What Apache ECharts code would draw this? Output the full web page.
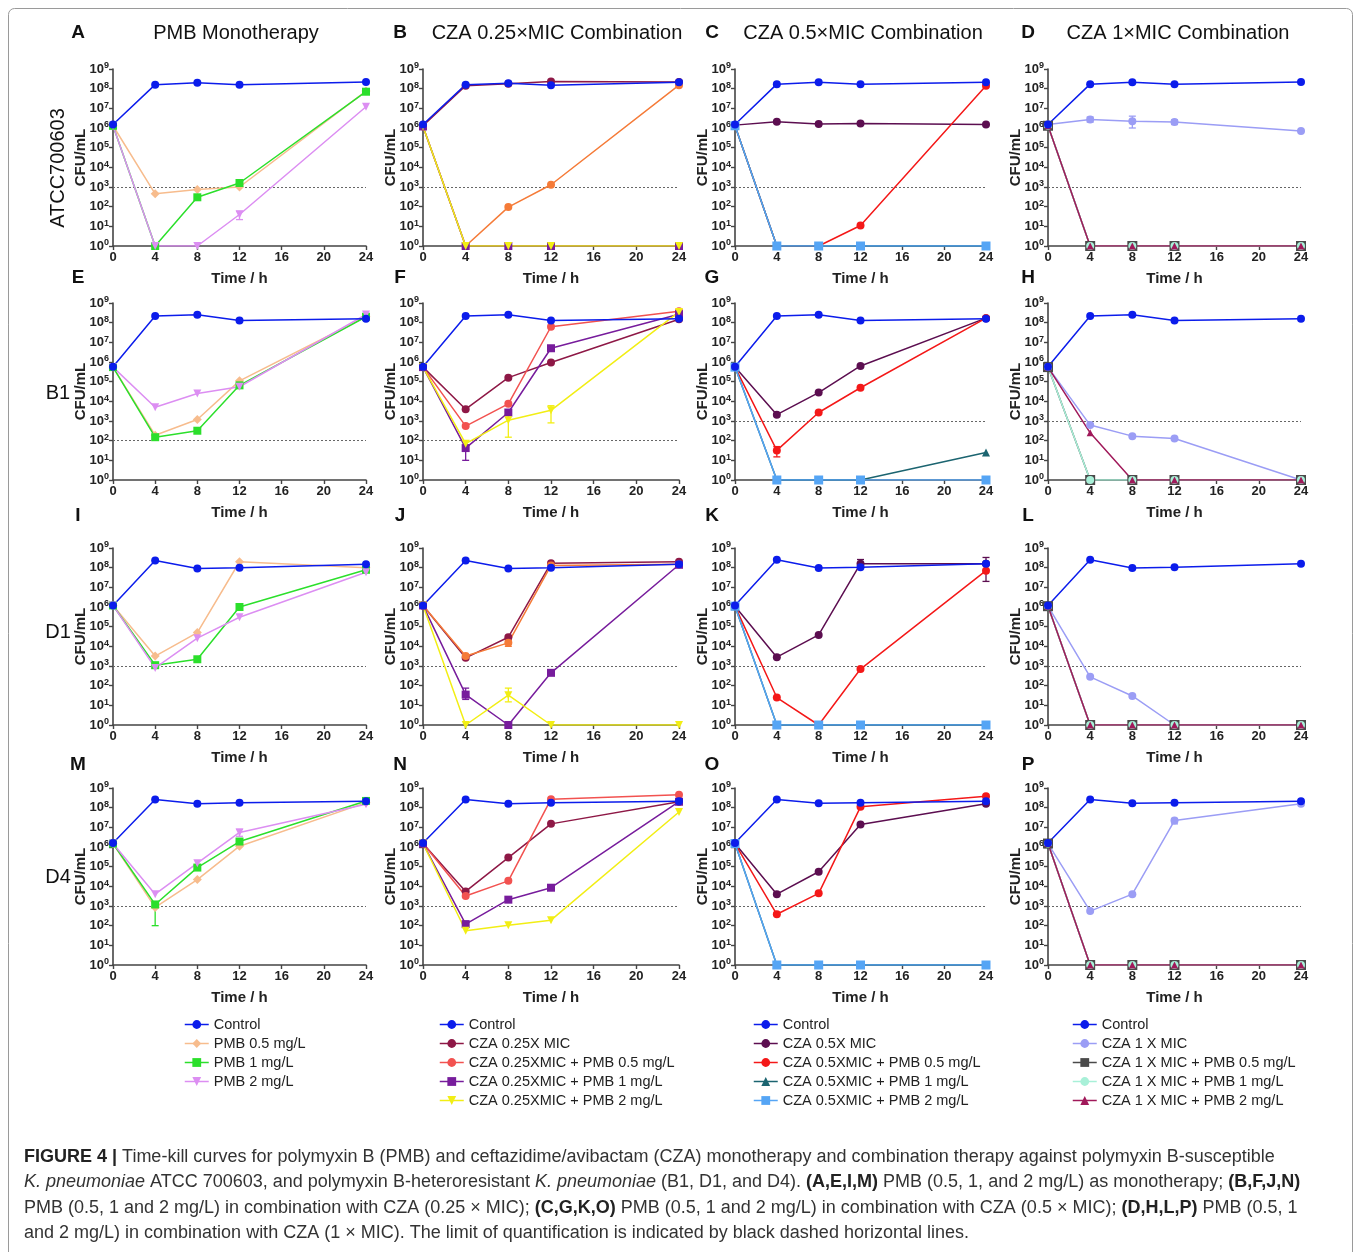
<!DOCTYPE html>
<html><head><meta charset="utf-8">
<script src="https://cdn.jsdelivr.net/npm/echarts@6/dist/echarts.min.js"></script>
<style>html,body{margin:0;padding:0;background:#fff}#c{width:1357px;height:1252px}</style>
</head><body><div id="c"></div><script>
// ---------- DATA ----------
const times = [0, 4, 8, 12, 24];

// Row 1: ATCC700603
const A_ctrl = [1.5e6, 1.6e8, 2.0e8, 1.6e8, 2.2e8];
const A_pmb05 = [1.3e6, 450, 750, 1000, 7.5e7];
const A_pmb1 = [1.3e6, 1, 300, 1600, 7.0e7];
const A_pmb2 = [1.3e6, 1, 1, 40, 1.2e7];

const B_ctrl = [1.5e6, 1.6e8, 1.9e8, 1.5e8, 2.1e8];
const B_cza = [1.3e6, 1.4e8, 1.8e8, 2.3e8, 2.2e8];
const B_c05 = [1.2e6, 1, 95, 1300, 1.5e8];
const B_c1 = [1.2e6, 1, 1, 1, 1];
const B_c2 = [1.2e6, 1, 1, 1, 1];

const C_ctrl = [1.5e6, 1.7e8, 2.1e8, 1.7e8, 2.1e8];
const C_cza = [1.4e6, 2.1e6, 1.6e6, 1.7e6, 1.5e6];
const C_c05 = [1.3e6, 1, 1, 11, 1.4e8];
const C_c1 = [1.3e6, 1, 1, 1, 1];
const C_c2 = [1.3e6, 1, 1, 1, 1];

const D_ctrl = [1.5e6, 1.7e8, 2.1e8, 1.7e8, 2.2e8];
const D_cza = [1.5e6, 2.7e6, 2.2e6, 2.0e6, 7.0e5];
const D_c05 = [1.3e6, 1, 1, 1, 1];
const D_c1 = [1.3e6, 1, 1, 1, 1];
const D_c2 = [1.3e6, 1, 1, 1, 1];

// Row 2: B1
const E_ctrl = [5.8e5, 2.2e8, 2.5e8, 1.3e8, 1.6e8];
const E_pmb05 = [5.5e5, 190, 1200, 1.1e5, 2.0e8];
const E_pmb1 = [5.5e5, 150, 320, 6.5e4, 2.0e8];
const E_pmb2 = [5.5e5, 5.0e3, 2.5e4, 5.5e4, 2.6e8];

const F_ctrl = [5.8e5, 2.2e8, 2.5e8, 1.3e8, 1.6e8];
const F_cza = [5.5e5, 4.0e3, 1.6e5, 9.5e5, 1.5e8];
const F_c05 = [5.5e5, 550, 7.5e3, 6.2e7, 3.8e8];
const F_c1 = [5.5e5, 42, 2.7e3, 5.0e6, 2.7e8];
const F_c2 = [5.5e5, 70, 1.1e3, 3.5e3, 3.5e8];

const G_ctrl = [5.8e5, 2.2e8, 2.5e8, 1.3e8, 1.6e8];
const G_cza = [5.5e5, 2.1e3, 2.8e4, 6.3e5, 1.7e8];
const G_c05 = [5.5e5, 32, 2.7e3, 4.9e4, 1.7e8];
const G_c1 = [5.5e5, 1, 1, 1, 25];
const G_c2 = [5.5e5, 1, 1, 1, 1];

const H_ctrl = [5.8e5, 2.2e8, 2.5e8, 1.3e8, 1.6e8];
const H_cza = [5.5e5, 620, 170, 130, 1];
const H_c05 = [5.5e5, 1, 1, 1, 1];
const H_c1 = [5.5e5, 1, 1, 1, 1];
const H_c2 = [5.5e5, 250, 1, 1, 1];

// Row 3: D1
const I_ctrl = [1.2e6, 2.3e8, 9.0e7, 1.0e8, 1.5e8];
const I_pmb05 = [1.2e6, 3.2e3, 5.0e4, 2.0e8, 1.0e8];
const I_pmb1 = [1.2e6, 1.1e3, 2.2e3, 1.0e6, 7.8e7];
const I_pmb2 = [1.2e6, 800, 2.6e4, 3.0e5, 5.8e7];

const J_ctrl = [1.2e6, 2.3e8, 9.0e7, 1.0e8, 1.5e8];
const J_cza = [1.2e6, 2.6e3, 2.9e4, 1.7e8, 2.0e8];
const J_c05 = [1.2e6, 3.2e3, 1.5e4, 1.3e8, 1.5e8];
const J_c1 = [1.2e6, 35, 1, 450, 1.4e8];
const J_c2 = [1.2e6, 1, 33, 1, 1];

const K_ctrl = [1.2e6, 2.5e8, 9.5e7, 1.05e8, 1.6e8];
const K_cza = [1.1e6, 2.8e3, 3.8e4, 1.6e8, 1.6e8];
const K_c05 = [1.1e6, 25, 1, 700, 7.0e7];
const K_c1 = [1.1e6, 1, 1, 1, 1];
const K_c2 = [1.1e6, 1, 1, 1, 1];

const L_ctrl = [1.2e6, 2.5e8, 9.5e7, 1.05e8, 1.6e8];
const L_cza = [1.1e6, 280, 30, 1, 1];
const L_c05 = [1.1e6, 1, 1, 1, 1];
const L_c1 = [1.1e6, 1, 1, 1, 1];
const L_c2 = [1.1e6, 1, 1, 1, 1];

// Row 4: D4
const M_ctrl = [1.6e6, 2.6e8, 1.6e8, 1.8e8, 2.1e8];
const M_pmb05 = [1.5e6, 850, 2.2e4, 1.1e6, 1.8e8];
const M_pmb1 = [1.5e6, 1.2e3, 9.0e4, 1.9e6, 2.2e8];
const M_pmb2 = [1.5e6, 4.0e3, 1.5e5, 5.5e6, 1.5e8];

const N_ctrl = [1.6e6, 2.6e8, 1.6e8, 1.8e8, 2.1e8];
const N_cza = [1.5e6, 5.5e3, 2.9e5, 1.5e7, 2.0e8];
const N_c05 = [1.5e6, 3.2e3, 1.9e4, 2.7e8, 4.5e8];
const N_c1 = [1.5e6, 120, 2.1e3, 8.5e3, 2.0e8];
const N_c2 = [1.5e6, 55, 105, 190, 6.0e7];

const O_ctrl = [1.6e6, 2.6e8, 1.7e8, 1.8e8, 2.1e8];
const O_cza = [1.5e6, 4.0e3, 5.5e4, 1.4e7, 1.6e8];
const O_c05 = [1.5e6, 380, 4.4e3, 1.1e8, 3.8e8];
const O_c1 = [1.5e6, 1, 1, 1, 1];
const O_c2 = [1.5e6, 1, 1, 1, 1];

const P_ctrl = [1.6e6, 2.6e8, 1.7e8, 1.8e8, 2.1e8];
const P_cza = [1.5e6, 550, 4.0e3, 2.2e7, 1.6e8];
const P_c05 = [1.5e6, 1, 1, 1, 1];
const P_c1 = [1.5e6, 1, 1, 1, 1];
const P_c2 = [1.5e6, 1, 1, 1, 1];

// error bars [time, low, high]
const A_err_pmb2 = [[12, 22, 60]];
const D_err_cza = [[4, 2.0e6, 3.6e6], [8, 1.0e6, 4.0e6], [12, 1.5e6, 2.6e6]];
const F_err_c1 = [[4, 10, 100]];
const F_err_c2 = [[8, 150, 3.0e3], [12, 800, 6.0e3]];
const G_err_c05 = [[4, 15, 50]];
const J_err_c1 = [[4, 20, 75]];
const J_err_c2 = [[8, 15, 75]];
const J_err_c05 = [[8, 1.0e4, 2.0e4]];
const K_err_cza = [[12, 1.1e8, 2.6e8], [24, 2.0e7, 3.3e8]];
const M_err_pmb1 = [[4, 100, 1.6e3]];
const M_err_pmb2 = [[12, 3.5e6, 8.0e6]];
const P_err_cza = [[12, 1.5e7, 2.8e7]];

const rowLabels = ['ATCC700603', 'B1', 'D1', 'D4'];
const colTitles = ['PMB Monotherapy', 'CZA 0.25\u00d7MIC Combination', 'CZA 0.5\u00d7MIC Combination', 'CZA 1\u00d7MIC Combination'];
const letters = ['A','B','C','D','E','F','G','H','I','J','K','L','M','N','O','P'];
const xTickLabels = ['0','4','8','12','16','20','24'];

// ---------- STYLE / LAYOUT ----------
const FF = "'Liberation Sans', Arial, Helvetica, sans-serif";
const FN = "'Liberation Sans Narrow', 'Liberation Sans', Arial, sans-serif";
const ST = {
  ctrl: {color:'#0B1CEB', symbol:'circle', size:8},
  pmb05:{color:'#F7BC8D', symbol:'diamond', size:9},
  pmb1: {color:'#2BDF2B', symbol:'rect', size:8},
  pmb2: {color:'#DC8EF2', symbol:'triangle', size:8, rotate:180},
  cza25:{color:'#8E1846', symbol:'circle', size:8},
  c25_05:{color:'#F25250', symbol:'circle', size:8},
  c25_1:{color:'#771C9C', symbol:'rect', size:8},
  c25_2:{color:'#F2EE14', symbol:'triangle', size:8, rotate:180},
  cza5: {color:'#5C0E50', symbol:'circle', size:8},
  c5_05:{color:'#F41818', symbol:'circle', size:8},
  c5_1: {color:'#1B6470', symbol:'triangle', size:8},
  c5_2: {color:'#55A5F5', symbol:'rect', size:9},
  cza1: {color:'#9B9DF5', symbol:'circle', size:8},
  c1_05:{color:'#4A4A4A', symbol:'rect', size:10},
  c1_1: {color:'#A8F0D8', symbol:'circle', size:8},
  c1_2: {color:'#A0195A', symbol:'triangle', size:7}
};
const cols = [
  {names:['Control','PMB 0.5 mg/L','PMB 1 mg/L','PMB 2 mg/L'], styles:['ctrl','pmb05','pmb1','pmb2']},
  {names:['Control','CZA 0.25X MIC','CZA 0.25XMIC + PMB 0.5 mg/L','CZA 0.25XMIC + PMB 1 mg/L','CZA 0.25XMIC + PMB 2 mg/L'], styles:['ctrl','cza25','c25_05','c25_1','c25_2']},
  {names:['Control','CZA 0.5X MIC','CZA 0.5XMIC + PMB 0.5 mg/L','CZA 0.5XMIC + PMB 1 mg/L','CZA 0.5XMIC + PMB 2 mg/L'], styles:['ctrl','cza5','c5_05','c5_1','c5_2']},
  {names:['Control','CZA 1 X MIC','CZA 1 X MIC + PMB 0.5 mg/L','CZA 1 X MIC + PMB 1 mg/L','CZA 1 X MIC + PMB 2 mg/L'], styles:['ctrl','cza1','c1_05','c1_1','c1_2']}
];
const ORANGE = '#F57B38';
// [letterIndex, row, col, LOQ, arrays, colour override, error bars {seriesIdx: arr}]
const panelDefs = [
  [0,0,0,1e3,[A_ctrl,A_pmb05,A_pmb1,A_pmb2],null,{3:A_err_pmb2}],
  [1,0,1,1e3,[B_ctrl,B_cza,B_c05,B_c1,B_c2],{2:ORANGE},{}],
  [2,0,2,1e3,[C_ctrl,C_cza,C_c05,C_c1,C_c2],null,{}],
  [3,0,3,1e3,[D_ctrl,D_cza,D_c05,D_c1,D_c2],null,{1:D_err_cza}],
  [4,1,0,1e2,[E_ctrl,E_pmb05,E_pmb1,E_pmb2],null,{}],
  [5,1,1,1e2,[F_ctrl,F_cza,F_c05,F_c1,F_c2],null,{3:F_err_c1,4:F_err_c2}],
  [6,1,2,1e3,[G_ctrl,G_cza,G_c05,G_c1,G_c2],null,{2:G_err_c05}],
  [7,1,3,1e3,[H_ctrl,H_cza,H_c05,H_c1,H_c2],null,{}],
  [8,2,0,1e3,[I_ctrl,I_pmb05,I_pmb1,I_pmb2],null,{}],
  [9,2,1,1e3,[J_ctrl,J_cza,J_c05,J_c1,J_c2],{2:ORANGE},{2:J_err_c05,3:J_err_c1,4:J_err_c2}],
  [10,2,2,1e3,[K_ctrl,K_cza,K_c05,K_c1,K_c2],null,{1:K_err_cza}],
  [11,2,3,1e3,[L_ctrl,L_cza,L_c05,L_c1,L_c2],null,{}],
  [12,3,0,1e3,[M_ctrl,M_pmb05,M_pmb1,M_pmb2],null,{2:M_err_pmb1,3:M_err_pmb2}],
  [13,3,1,1e3,[N_ctrl,N_cza,N_c05,N_c1,N_c2],null,{}],
  [14,3,2,1e3,[O_ctrl,O_cza,O_c05,O_c1,O_c2],null,{}],
  [15,3,3,1e3,[P_ctrl,P_cza,P_c05,P_c1,P_c2],null,{1:P_err_cza}]
];
const colLeft = [113, 423, 735, 1048], colW = [253, 256, 251, 253];
const rowTop = [69, 303, 548, 788], rowH = 177;

const grids = [], xAxes = [], yAxes = [], series = [];
panelDefs.forEach((p, i) => {
  const [li, r, c, loq, arrs, over, errs] = p;
  grids.push({left: colLeft[c], top: rowTop[r], width: colW[c], height: rowH});
  xAxes.push({
    gridIndex: i, type: 'value', min: 0, max: 24, interval: 4,
    name: 'Time / h', nameLocation: 'middle', nameGap: 25, nameMoveOverlap: false,
    nameTextStyle: {fontFamily: FN, fontSize: 15, fontWeight: 'bold', color: '#222'},
    axisLine: {onZero: false, lineStyle: {color: '#444', width: 1.6}},
    axisTick: {length: 4, lineStyle: {color: '#444', width: 1.4}},
    axisLabel: {fontFamily: FN, fontSize: 13, fontWeight: 'bold', color: '#222', margin: 5,
      formatter: v => xTickLabels[v / 4]},
    splitLine: {show: false}
  });
  yAxes.push({
    gridIndex: i, type: 'log', logBase: 10, min: 1, max: 1e9, splitNumber: 9,
    name: 'CFU/mL', nameLocation: 'middle', nameGap: 25, nameMoveOverlap: false,
    nameTextStyle: {fontFamily: FN, fontSize: 15, fontWeight: 'bold', color: '#222'},
    axisLine: {show: true, onZero: false, lineStyle: {color: '#444', width: 1.6}},
    axisTick: {show: true, length: 4, lineStyle: {color: '#444', width: 1.4}},
    axisLabel: {margin: 4, formatter: v => '{b|10}{s|' + Math.round(Math.log10(v)) + '}',
      rich: {b: {fontFamily: FN, fontSize: 13, fontWeight: 'bold', color: '#222', lineHeight: 15},
             s: {fontFamily: FN, fontSize: 9, fontWeight: 'bold', color: '#222', verticalAlign: 'top', lineHeight: 9}}},
    splitLine: {show: false}
  });
  const order = arrs.map((a, k) => k).slice(1).concat([0]);
  order.forEach(k => {
    const st = ST[cols[c].styles[k]];
    const color = (over && over[k]) || st.color;
    const s = {
      type: 'line', name: cols[c].names[k], xAxisIndex: i, yAxisIndex: i,
      data: times.map((t, j) => [t, arrs[k][j]]),
      symbol: st.symbol, symbolSize: st.size, symbolRotate: st.rotate || 0,
      itemStyle: {color: color}, lineStyle: {color: color, width: 1.5},
      z: 3, silent: true
    };
    if (k === 0) {
      s.markLine = {silent: true, symbol: ['none', 'none'], label: {show: false},
        lineStyle: {type: [2, 2], color: '#666', width: 1}, data: [{yAxis: loq}], z: 1};
    }
    series.push(s);
    if (errs && errs[k]) {
      series.push({
        type: 'custom', name: 'err', xAxisIndex: i, yAxisIndex: i, silent: true, z: 2,
        data: errs[k], encode: {x: 0, y: [1, 2]},
        renderItem: (params, api) => {
          const x = api.value(0), lo = api.coord([x, api.value(1)]), hi = api.coord([x, api.value(2)]);
          const ls = {stroke: color, lineWidth: 1.3};
          return {type: 'group', children: [
            {type: 'line', shape: {x1: lo[0], y1: lo[1], x2: hi[0], y2: hi[1]}, style: ls},
            {type: 'line', shape: {x1: lo[0] - 3.5, y1: lo[1], x2: lo[0] + 3.5, y2: lo[1]}, style: ls},
            {type: 'line', shape: {x1: hi[0] - 3.5, y1: hi[1], x2: hi[0] + 3.5, y2: hi[1]}, style: ls}
          ]};
        }
      });
    }
  });
});

// legends
const legLeft = [179, 434, 748, 1067];
const legends = cols.map((col, c) => ({
  orient: 'vertical', left: legLeft[c], top: 1012, itemGap: 4, itemWidth: 24, itemHeight: 11,
  selectedMode: false,
  textStyle: {fontFamily: FF, fontSize: 14.5, color: '#222'},
  data: col.names.map((n, k) => {
    const st = ST[col.styles[k]];
    return {name: n, itemStyle: {color: st.color}, lineStyle: {color: st.color, width: 1.5}};
  })
}));

// graphic texts
const graphics = [];
graphics.push({type: 'rect', left: 6, top: 6, shape: {width: 1344, height: 1300, r: 6}, silent: true,
  style: {fill: 'none', stroke: '#9a9a9a', lineWidth: 1}});
const letterX = [78, 400, 712, 1028];
const letterY = [33, 278, 516, 765];
letters.forEach((L, idx) => {
  const r = Math.floor(idx / 4), c = idx % 4;
  graphics.push({type: 'text', x: letterX[c], y: letterY[r], silent: true,
    style: {text: L, font: 'bold 19px ' + FF, fill: '#111', textAlign: 'center', textVerticalAlign: 'middle'}});
});
const titleX = [236, 557, 863, 1178];
colTitles.forEach((t, c) => graphics.push({type: 'text', x: titleX[c], y: 33, silent: true,
  style: {text: t, font: '20px ' + FF, fill: '#111', textAlign: 'center', textVerticalAlign: 'middle'}}));
const rowLabelY = [168, 393, 632, 877];
rowLabels.forEach((t, r) => graphics.push({type: 'text', x: 58, y: rowLabelY[r], silent: true,
  rotation: r === 0 ? Math.PI / 2 : 0,
  style: {text: t, font: '20px ' + FF, fill: '#111', textAlign: 'center', textVerticalAlign: 'middle'}}));

const capRich = {
  b: {fontFamily: FN, fontSize: 18, fontWeight: 'bold', fill: '#222'},
  n: {fontFamily: FN, fontSize: 18, fill: '#333'},
  i: {fontFamily: FN, fontSize: 18, fontStyle: 'italic', fill: '#333'}
};
const capLines = [
  '{b|FIGURE 4 |}{n| Time-kill curves for polymyxin B (PMB) and ceftazidime/avibactam (CZA) monotherapy and combination therapy against polymyxin B-susceptible}',
  '{i|K. pneumoniae}{n| ATCC 700603, and polymyxin B-heteroresistant }{i|K. pneumoniae}{n| (B1, D1, and D4). }{b|(A,E,I,M)}{n| PMB (0.5, 1, and 2 mg/L) as monotherapy; }{b|(B,F,J,N)}',
  '{n|PMB (0.5, 1 and 2 mg/L) in combination with CZA (0.25 \u00d7 MIC); }{b|(C,G,K,O)}{n| PMB (0.5, 1 and 2 mg/L) in combination with CZA (0.5 \u00d7 MIC); }{b|(D,H,L,P)}{n| PMB (0.5, 1}',
  '{n|and 2 mg/L) in combination with CZA (1 \u00d7 MIC). The limit of quantification is indicated by black dashed horizontal lines.}'
];
const capY = [1157, 1182, 1208, 1233];
capLines.forEach((t, j) => graphics.push({type: 'text', x: 24, y: capY[j], silent: true,
  style: {text: t, rich: capRich, textVerticalAlign: 'middle', textAlign: 'left'}}));

const chart = echarts.init(document.getElementById('c'), null, {renderer: 'canvas'});
chart.setOption({
  animation: false,
  backgroundColor: '#ffffff',
  grid: grids, xAxis: xAxes, yAxis: yAxes, series: series,
  legend: legends, graphic: graphics
});
</script></body></html>
